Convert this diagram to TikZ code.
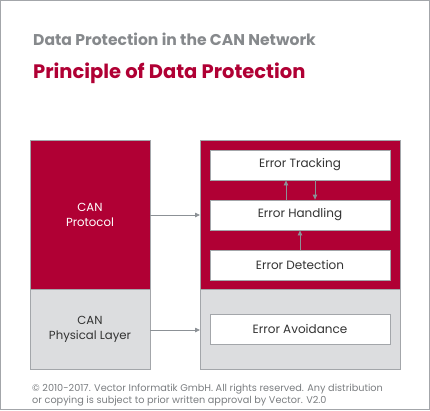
\documentclass[tikz,border=0pt]{standalone}
\usepackage{fontspec}
\setmainfont{Poppins}
\usetikzlibrary{arrows.meta}
\definecolor{vred}{HTML}{B00034}
\definecolor{vgrayfill}{HTML}{DCDDDF}
\definecolor{vborder}{HTML}{A3A6AA}
\definecolor{vtitle}{HTML}{86898C}
\definecolor{varrow}{HTML}{8C9196}
\definecolor{vtext}{HTML}{333333}
\definecolor{vfoot}{HTML}{7A7D80}
\tikzset{
  redbox/.style={draw=vborder, line width=0.8pt, fill=vred},
  graybox/.style={draw=vborder, line width=0.8pt, fill=vgrayfill},
  errbox/.style={draw=vborder, line width=0.8pt, fill=white, minimum width=180pt, minimum height=30pt, inner sep=0pt, font=\fontsize{12}{14}\selectfont, text=vtext},
  conn/.style={draw=varrow, line width=0.8pt, -{Triangle[length=5pt,width=4.5pt]}},
  lbl/.style={font=\fontsize{11.7}{15}\selectfont, align=center, inner sep=0pt},
  foottext/.style={anchor=base west, inner sep=0pt, text=vfoot, font=\fontsize{9.7}{12}\selectfont}
}
\begin{document}
\begin{tikzpicture}[x=1pt,y=-1pt]
\useasboundingbox (0,0) rectangle (430,410);
\draw[vborder, line width=1pt] (0.5,0.5) rectangle (429.5,409.5);
\node[anchor=base west, inner sep=0pt, text=vtitle, font=\fontsize{15.6}{17}\selectfont\bfseries] (t1) at (33,45) {Data Protection in the CAN Network};
\node[anchor=base west, inner sep=0pt, text=vred, font=\fontsize{19.5}{22}\selectfont\bfseries] (t2) at (33,78) {Principle of Data Protection};
% left column
\draw[redbox] (30,140) rectangle (150,289);
\draw[graybox] (30,289) rectangle (150,369);
\node[lbl, text=white] (proto) at (90,215) {CAN\\Protocol};
\node[lbl, text=vtext] (phys) at (90,329) {CAN\\Physical Layer};
% right column
\draw[redbox] (200,140) rectangle (400,289);
\draw[graybox] (200,289) rectangle (400,369);
\coordinate (rtop) at (200,215);
\coordinate (rbot) at (200,330);
\node[errbox] (track) at (300,165) {Error Tracking};
\node[errbox] (handle) at (300,215) {Error Handling};
\node[errbox] (detect) at (300,265) {Error Detection};
\node[errbox] (avoid) at (300,329) {Error Avoidance};
% connectors
\coordinate (pr) at (150,215);
\coordinate (pl) at (150,330);
\draw[conn] (pr) -- (rtop);
\draw[conn] (pl) -- (rbot);
\draw[conn] (handle.north -| 286,0) -- (track.south -| 286,0);
\draw[conn] (track.south -| 315,0) -- (handle.north -| 315,0);
\draw[conn] (detect.north) -- (handle.south);
% footer
\node[foottext] (foot1) at (32,391) {© 2010-2017. Vector Informatik GmbH. All rights reserved. Any distribution};
\node[foottext] (foot2) at (32,403) {or copying is subject to prior written approval by Vector. V2.0};
\end{tikzpicture}
\end{document}
